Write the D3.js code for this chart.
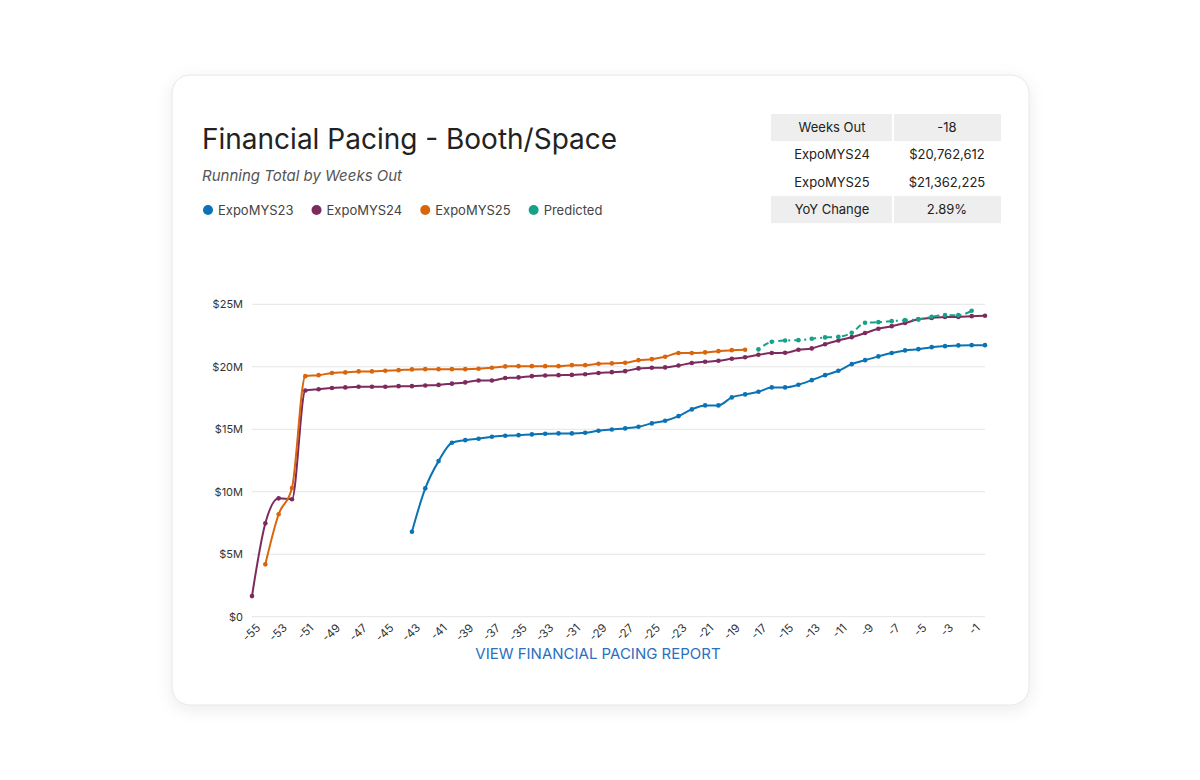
<!DOCTYPE html><html><head><meta charset="utf-8">
<script src="https://cdn.jsdelivr.net/npm/d3@7"></script>
<style>body{margin:0;background:#fff;font-family:Inter,"Noto Sans",sans-serif}</style></head><body>
<svg id="c" width="1200" height="780"></svg>
<script>
const weeks = d3.range(-55, 1);
const expo23 = [6.8,10.27,12.45,13.92,14.13,14.24,14.4,14.48,14.53,14.59,14.64,14.67,14.67,14.72,14.88,14.98,15.07,15.2,15.47,15.68,16.05,16.59,16.91,16.91,17.55,17.79,18.0,18.35,18.35,18.56,18.93,19.33,19.68,20.21,20.53,20.83,21.1,21.31,21.41,21.57,21.65,21.71,21.73,21.73]; // -43..0
const expo24 = [1.65,7.47,9.47,9.4,18.1,18.2,18.3,18.35,18.4,18.4,18.4,18.45,18.45,18.5,18.55,18.65,18.75,18.9,18.9,19.1,19.15,19.25,19.3,19.33,19.35,19.4,19.5,19.57,19.65,19.87,19.92,19.95,20.1,20.3,20.4,20.48,20.64,20.76,20.96,21.1,21.12,21.36,21.47,21.8,22.1,22.37,22.7,23.04,23.25,23.5,23.8,23.9,23.99,23.99,24.05,24.08]; // -55..0
const expo25 = [4.19,8.2,10.3,19.25,19.33,19.5,19.55,19.63,19.63,19.68,19.73,19.79,19.81,19.81,19.81,19.81,19.84,19.92,20.03,20.05,20.05,20.05,20.05,20.13,20.13,20.24,20.27,20.32,20.53,20.61,20.8,21.1,21.1,21.15,21.25,21.33,21.36]; // -54..-18
const predicted = [21.39,22.0,22.1,22.13,22.24,22.35,22.4,22.72,23.52,23.57,23.65,23.73,23.79,24.0,24.13,24.13,24.48]; // -17..-1
const yTicks = [0,5,10,15,20,25];
const xTickLabels = d3.range(-55, 0, 2);
const series = [
 {name:"ExpoMYS23", start:-43, vals:expo23, color:"#0b72b5"},
 {name:"ExpoMYS24", start:-55, vals:expo24, color:"#7d2a5d"},
 {name:"ExpoMYS25", start:-54, vals:expo25, color:"#d9650c"},
 {name:"Predicted", start:-17, vals:predicted, color:"#17a08a", dash:"2,4,6,4"}
];
const tableRows = [["Weeks Out","-18"],["ExpoMYS24","$20,762,612"],["ExpoMYS25","$21,362,225"],["YoY Change","2.89%"]];

const svg = d3.select("#c");
const defs = svg.append("defs");
const f = defs.append("filter").attr("id","sh").attr("x","-10%").attr("y","-10%").attr("width","120%").attr("height","120%");
f.append("feDropShadow").attr("dx",0).attr("dy",4).attr("stdDeviation",8).attr("flood-color","#000").attr("flood-opacity",0.08);
svg.append("rect").attr("x",172).attr("y",75).attr("width",857).attr("height",630).attr("rx",18).attr("fill","#fff").attr("stroke","#e6e6e6").attr("filter","url(#sh)");

svg.append("text").attr("x",202).attr("y",149).attr("font-size",28).attr("fill","#222").text("Financial Pacing - Booth/Space");
svg.append("text").attr("x",202).attr("y",181).attr("font-size",15).attr("font-style","italic").attr("fill","#555").text("Running Total by Weeks Out");
let lx=202;
series.forEach(s=>{
  const g=svg.append("g");
  g.append("circle").attr("cx",lx+6).attr("cy",210).attr("r",5).attr("fill",s.color);
  const t=g.append("text").attr("x",lx+16).attr("y",215).attr("font-size",13).attr("fill","#444").text(s.name);
  lx += 16 + t.node().getComputedTextLength() + 17;
});

tableRows.forEach((r,i)=>{
  const y=114+i*27.3;
  const shade = i===0||i===3;
  svg.append("rect").attr("x",771).attr("y",y).attr("width",230).attr("height",27.3).attr("fill",shade?"#eeeeee":"#fff");
  svg.append("line").attr("x1",893).attr("x2",893).attr("y1",y).attr("y2",y+27.3).attr("stroke","#fff").attr("stroke-width",2);
  svg.append("text").attr("x",832).attr("y",y+18).attr("text-anchor","middle").attr("font-size",13).attr("fill","#222").text(r[0]);
  svg.append("text").attr("x",947).attr("y",y+18).attr("text-anchor","middle").attr("font-size",13).attr("fill","#222").text(r[1]);
});

const x=d3.scaleLinear().domain([-55,0]).range([252,985]);
const y=d3.scaleLinear().domain([0,25]).range([616.7,304.3]);
const grid=svg.append("g");
yTicks.forEach(v=>{
  grid.append("line").attr("x1",252).attr("x2",985).attr("y1",y(v)).attr("y2",y(v)).attr("stroke","#e5e5e5");
  grid.append("text").attr("x",243).attr("y",y(v)+4).attr("text-anchor","end").attr("font-size",11).attr("fill","#333").text("$"+v+(v?"M":""));
});
const xa=svg.append("g").attr("transform","translate(0,616.7)").call(d3.axisBottom(x).tickValues(xTickLabels).tickSize(0).tickFormat(d=>d));
xa.select(".domain").remove();
xa.selectAll("text").attr("font-size",11.5).attr("fill","#333").attr("font-family","Inter,sans-serif")
  .attr("text-anchor","end").attr("transform","rotate(-45)").attr("dx","-0.2em").attr("dy","1.0em");

const line=d3.line().x(d=>x(d[0])).y(d=>y(d[1])).curve(d3.curveMonotoneX);
series.forEach(s=>{
  const pts=s.vals.map((v,i)=>[s.start+i,v]);
  svg.append("path").attr("d",line(pts)).attr("fill","none").attr("stroke",s.color).attr("stroke-width",2).attr("stroke-dasharray",s.dash||null);
  svg.selectAll(null).data(pts).enter().append("circle").attr("cx",d=>x(d[0])).attr("cy",d=>y(d[1])).attr("r",2.3).attr("fill",s.color);
});
svg.append("text").attr("x",598).attr("y",659).attr("text-anchor","middle").attr("font-size",15).attr("fill","#2a6fc0").text("VIEW FINANCIAL PACING REPORT");
</script></body></html>
